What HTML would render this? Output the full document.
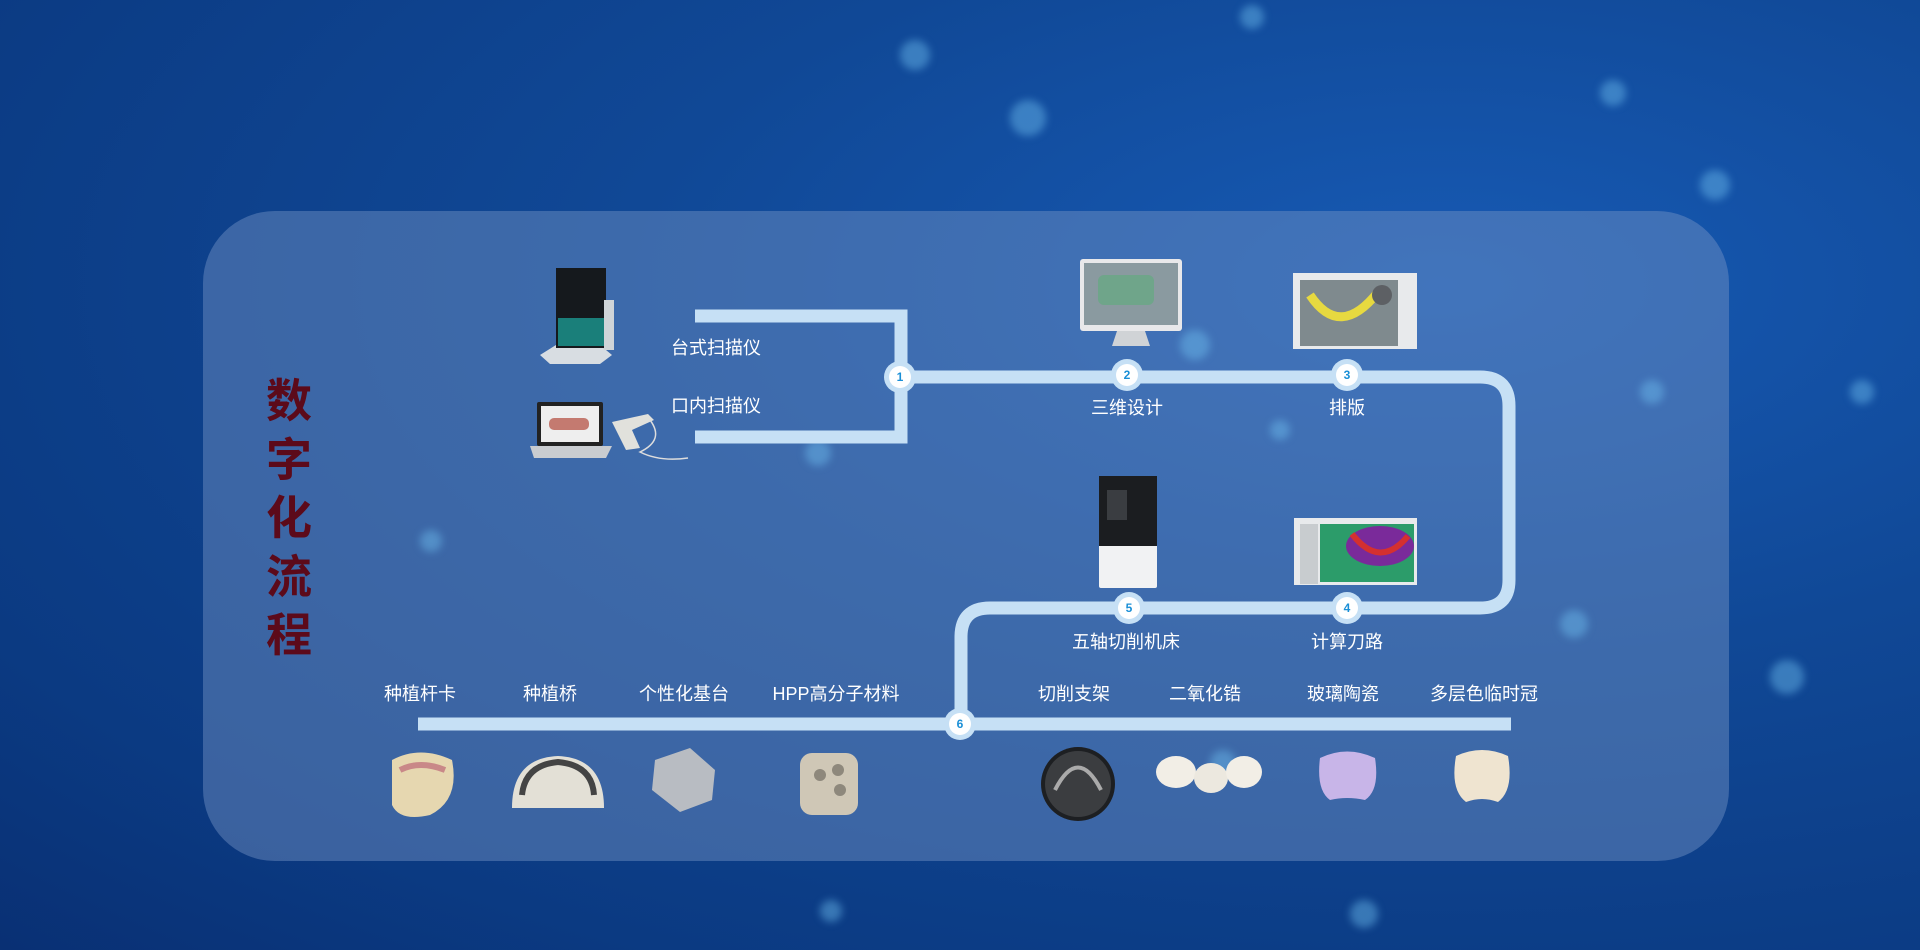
<!DOCTYPE html>
<html><head><meta charset="utf-8"><style>
*{margin:0;padding:0;box-sizing:border-box}
body{width:1920px;height:950px;overflow:hidden;position:relative;font-family:"Liberation Sans","Noto Sans CJK SC",sans-serif;
background:radial-gradient(ellipse at 75% 30%,#175ab4 0%,#104896 40%,#0b3a82 80%,#093074 100%);}
.dot{position:absolute;border-radius:50%;background:rgba(110,190,240,.45);filter:blur(4px)}
.panel{position:absolute;left:203px;top:211px;width:1526px;height:650px;border-radius:72px;background:rgba(118,148,198,.45)}
.title{position:absolute;left:262px;top:372px;width:54px;color:#5c0a1a;font-size:46px;font-weight:bold;line-height:58.5px;text-align:center;font-family:"Liberation Sans","Noto Sans CJK SC",sans-serif}
.lb{position:absolute;color:#fff;font-size:18px;white-space:nowrap;transform:translate(-50%,-50%)}
.lbl{position:absolute;color:#fff;font-size:18px;white-space:nowrap;transform:translateY(-50%)}
.node{position:absolute;width:32px;height:32px;border-radius:50%;background:#c6e0f5;transform:translate(-50%,-50%)}
.node span{position:absolute;left:5px;top:5px;width:22px;height:22px;border-radius:50%;background:#fff;color:#1a8fd6;font-size:12px;font-weight:bold;text-align:center;line-height:22px}
</style></head><body>
<div class="dot" style="left:900px;top:40px;width:30px;height:30px"></div>
<div class="dot" style="left:1240px;top:5px;width:24px;height:24px"></div>
<div class="dot" style="left:1010px;top:100px;width:36px;height:36px"></div>
<div class="dot" style="left:1600px;top:80px;width:26px;height:26px"></div>
<div class="dot" style="left:1700px;top:170px;width:30px;height:30px"></div>
<div class="dot" style="left:1770px;top:660px;width:34px;height:34px"></div>
<div class="dot" style="left:1350px;top:900px;width:28px;height:28px"></div>
<div class="dot" style="left:820px;top:900px;width:22px;height:22px"></div>
<div class="dot" style="left:1850px;top:380px;width:24px;height:24px"></div>
<div class="panel"></div>
<div class="dot" style="left:1180px;top:330px;width:30px;height:30px"></div>
<div class="dot" style="left:805px;top:440px;width:26px;height:26px"></div>
<div class="dot" style="left:1640px;top:380px;width:24px;height:24px"></div>
<div class="dot" style="left:1560px;top:610px;width:28px;height:28px"></div>
<div class="dot" style="left:1210px;top:750px;width:26px;height:26px"></div>
<div class="dot" style="left:420px;top:530px;width:22px;height:22px"></div>
<div class="dot" style="left:1270px;top:420px;width:20px;height:20px"></div>

<svg width="1920" height="950" style="position:absolute;left:0;top:0" fill="none">
<g stroke="#c6e0f5" stroke-width="13">
<path d="M695 316 H901 V437 H695"/>
<path d="M901 377 H1480 Q1509 377 1509 406 V580 Q1509 608 1480 608 H990 Q961 608 961 637 V724"/>
<path d="M418 724 H1511"/>
</g>
<path d="M540 355 L556 345 H600 L612 355 L600 364 H550 Z" fill="#d8dde2"/>
<rect x="556" y="268" width="50" height="80" fill="#15191d"/>
<rect x="558" y="318" width="46" height="28" fill="#1a7f7a"/>
<rect x="604" y="300" width="10" height="50" fill="#cfd4d8"/>
<rect x="537" y="402" width="66" height="44" rx="2" fill="#222"/>
<rect x="541" y="406" width="58" height="36" fill="#eee"/>
<rect x="549" y="418" width="40" height="12" rx="5" fill="#c47a70"/>
<path d="M530 446 H612 L606 458 H534 Z" fill="#c9ccd0"/>
<path d="M612 422 L648 414 L654 420 L632 430 L640 448 L626 450 Z" fill="#e1e1dc"/>
<path d="M650 420 Q665 440 640 452 Q660 462 688 458" stroke="#ddd" stroke-width="1.5"/>
<rect x="1080" y="259" width="102" height="72" rx="3" fill="#e8e8ea"/>
<rect x="1084" y="263" width="94" height="62" fill="#8a9aa0"/>
<rect x="1098" y="275" width="56" height="30" rx="6" fill="#6fa58a"/>
<path d="M1117 331 H1145 L1150 346 H1112 Z" fill="#d0d3d6"/>
<rect x="1293" y="273" width="124" height="76" fill="#e8eaec"/>
<rect x="1300" y="280" width="98" height="66" fill="#7f8a8e"/>
<path d="M1310 295 Q1340 340 1378 292" stroke="#e7d940" stroke-width="9"/>
<circle cx="1382" cy="295" r="10" fill="#5d6064"/>
<rect x="1099" y="476" width="58" height="112" rx="2" fill="#f1f2f3"/>
<rect x="1099" y="476" width="58" height="70" fill="#1b1d20"/>
<rect x="1107" y="490" width="20" height="30" fill="#3a3d41"/>
<rect x="1294" y="518" width="123" height="67" fill="#e8eaec"/>
<rect x="1300" y="524" width="18" height="60" fill="#c8cccf"/>
<rect x="1320" y="524" width="94" height="58" fill="#2c9c6a"/>
<ellipse cx="1380" cy="546" rx="34" ry="20" fill="#7a2a9a"/>
<path d="M1352 534 Q1380 570 1408 536" stroke="#d43030" stroke-width="6"/>
<path d="M392 760 Q420 745 452 760 Q460 800 430 815 Q400 822 392 805 Z" fill="#e6d7b0"/>
<path d="M400 770 Q420 760 445 770" stroke="#c98888" stroke-width="6"/>
<path d="M512 808 Q512 758 558 756 Q604 758 604 808 Z" fill="#e3e0d6"/>
<path d="M522 795 Q525 765 558 762 Q592 765 594 795" stroke="#444" stroke-width="6"/>
<path d="M655 760 L690 748 L715 770 L712 800 L680 812 L652 790 Z" fill="#b8bcc2"/>
<rect x="800" y="753" width="58" height="62" rx="12" fill="#cfc7b6"/>
<circle cx="820" cy="775" r="6" fill="#8e887c"/><circle cx="838" cy="770" r="6" fill="#8e887c"/><circle cx="840" cy="790" r="6" fill="#8e887c"/>
<circle cx="1078" cy="784" r="37" fill="#1d1f22"/>
<circle cx="1078" cy="784" r="33" fill="#3b3d40"/>
<path d="M1055 790 Q1078 745 1101 790" stroke="#aaa" stroke-width="4"/>
<ellipse cx="1176" cy="772" rx="20" ry="16" fill="#f2eee6"/>
<ellipse cx="1211" cy="778" rx="17" ry="15" fill="#ece8df"/>
<ellipse cx="1244" cy="772" rx="18" ry="16" fill="#f2eee6"/>
<path d="M1320 758 Q1347 745 1375 758 Q1380 790 1365 800 Q1347 796 1330 800 Q1316 790 1320 758 Z" fill="#c8b5e8"/>
<path d="M1456 756 Q1482 744 1508 756 Q1514 790 1498 802 Q1482 796 1466 802 Q1450 790 1456 756 Z" fill="#efe4d0"/>
</svg>

<div class="node" style="left:900px;top:377px"><span>1</span></div>
<div class="node" style="left:1127px;top:375px"><span>2</span></div>
<div class="node" style="left:1347px;top:375px"><span>3</span></div>
<div class="node" style="left:1347px;top:608px"><span>4</span></div>
<div class="node" style="left:1129px;top:608px"><span>5</span></div>
<div class="node" style="left:960px;top:724px"><span>6</span></div>

<div class="title">数<br>字<br>化<br>流<br>程</div>

<div class="lbl" style="left:671px;top:347px">台式扫描仪</div>
<div class="lbl" style="left:671px;top:405px">口内扫描仪</div>
<div class="lb" style="left:1127px;top:407px">三维设计</div>
<div class="lb" style="left:1347px;top:407px">排版</div>
<div class="lb" style="left:1126px;top:641px">五轴切削机床</div>
<div class="lb" style="left:1347px;top:641px">计算刀路</div>
<div class="lb" style="left:420px;top:693px">种植杆卡</div>
<div class="lb" style="left:550px;top:693px">种植桥</div>
<div class="lb" style="left:684px;top:693px">个性化基台</div>
<div class="lb" style="left:836px;top:693px">HPP高分子材料</div>
<div class="lb" style="left:1074px;top:693px">切削支架</div>
<div class="lb" style="left:1205px;top:693px">二氧化锆</div>
<div class="lb" style="left:1343px;top:693px">玻璃陶瓷</div>
<div class="lb" style="left:1484px;top:693px">多层色临时冠</div>
</body></html>
